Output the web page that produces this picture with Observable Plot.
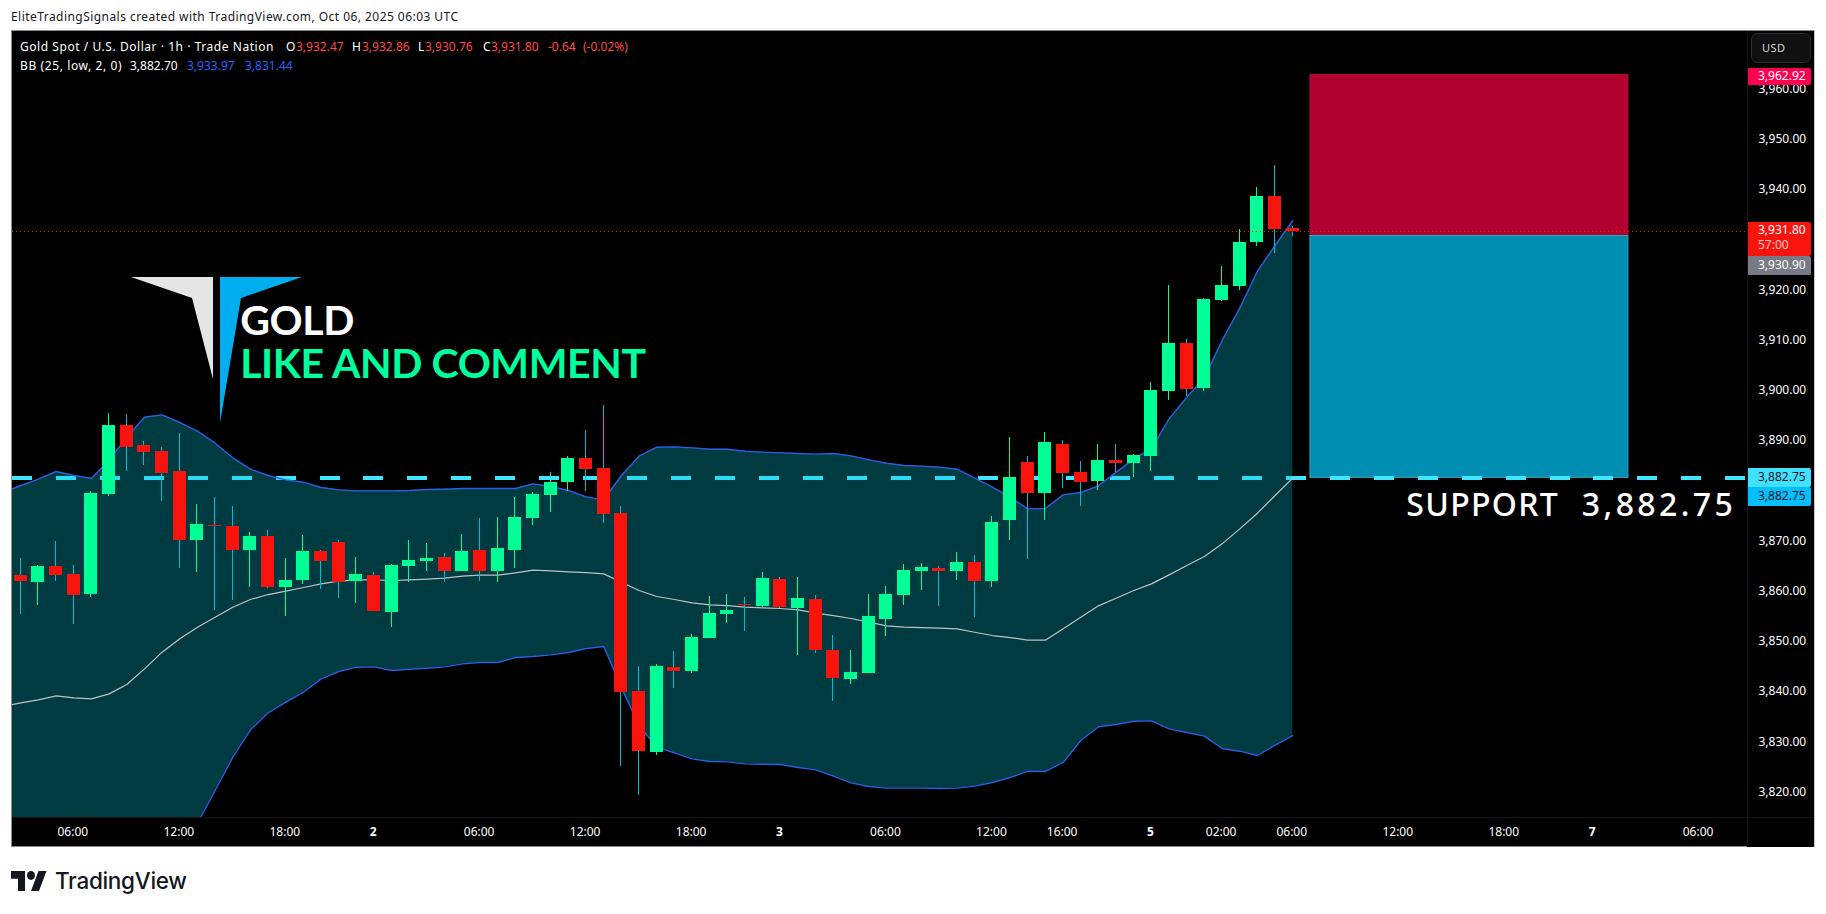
<!DOCTYPE html>
<html>
<head>
<meta charset="utf-8">
<script src="https://cdn.jsdelivr.net/npm/d3@7"></script>
<script src="https://cdn.jsdelivr.net/npm/@observablehq/plot@0.6"></script>
<style>
html,body{margin:0;padding:0;background:#fff;width:1826px;height:914px;overflow:hidden}
body{font-family:"Noto Sans",sans-serif;position:relative}
#hdr{position:absolute;left:11px;top:8px;font-size:12px;line-height:17px;letter-spacing:0.45px;color:#131722;white-space:nowrap}
#chart{position:absolute;left:11px;top:30px;width:1804px;height:817px;background:#000}
#chart svg{display:block}
.ov{position:absolute;white-space:nowrap}
.leg{position:absolute;font-size:12px;line-height:16px;white-space:nowrap;color:#fff}
.tag{position:absolute;left:1748px;width:53px;padding-left:10px;font-size:12px;color:#fff;border-radius:0 2px 2px 0;box-sizing:content-box}
.tag span{position:absolute;left:10px}
</style>
</head>
<body>
<div id="hdr">EliteTradingSignals created with TradingView.com, Oct 06, 2025 06:03 UTC</div>
<div id="chart"></div>
<script>
const open_ = [3863.32,3861.92,3865.11,3863.52,3859.53,3879.44,3893.17,3889.19,3888.00,3884.02,3870.28,3873.27,3873.07,3868.29,3871.08,3860.93,3862.32,3868.09,3869.88,3862.12,3863.32,3855.95,3865.11,3866.10,3866.90,3864.11,3868.29,3864.11,3868.29,3874.66,3879.24,3881.83,3886.61,3884.61,3875.66,3840.23,3828.08,3845.00,3844.21,3850.78,3855.55,3857.54,3857.15,3862.52,3856.75,3858.54,3848.39,3842.62,3843.81,3854.55,3859.33,3864.11,3864.71,3864.11,3865.90,3862.12,3874.26,3885.81,3879.64,3889.39,3883.82,3882.02,3886.20,3885.61,3887.00,3899.94,3909.49,3900.54,3918.05,3920.84,3929.60,3938.75,3932.47];
const high = [3866.70,3865.31,3870.08,3865.31,3880.04,3895.56,3895.36,3889.99,3888.79,3891.58,3877.45,3878.84,3877.05,3871.88,3872.27,3866.70,3871.28,3868.29,3870.28,3866.90,3863.91,3865.51,3870.28,3869.69,3867.70,3871.48,3874.66,3874.86,3878.84,3879.84,3883.82,3887.00,3892.18,3897.15,3877.05,3845.20,3845.60,3848.19,3851.57,3859.14,3859.53,3858.94,3863.91,3862.92,3862.92,3859.34,3851.37,3848.39,3859.53,3861.12,3865.50,3865.70,3865.10,3867.89,3867.29,3875.06,3890.78,3887.00,3891.78,3890.18,3886.00,3889.39,3889.39,3887.40,3901.73,3921.04,3910.29,3918.45,3924.82,3932.18,3940.54,3944.92,3932.86];
const low = [3855.55,3857.34,3862.12,3853.56,3858.94,3879.04,3884.02,3885.21,3878.05,3864.71,3863.91,3856.35,3858.34,3860.93,3860.73,3855.15,3861.52,3860.53,3858.74,3857.74,3856.15,3852.97,3861.92,3864.11,3861.92,3864.11,3862.12,3861.92,3864.71,3873.27,3875.86,3880.04,3880.04,3873.67,3825.30,3819.53,3827.49,3840.82,3843.81,3850.78,3853.76,3852.17,3856.95,3856.75,3847.39,3847.79,3838.24,3841.62,3843.81,3851.17,3857.34,3860.33,3857.14,3862.32,3854.95,3860.92,3870.28,3866.50,3874.26,3880.63,3877.05,3880.23,3883.82,3882.82,3884.01,3898.15,3898.94,3899.94,3917.85,3920.04,3928.80,3927.41,3930.76];
const close_ = [3862.12,3865.11,3863.32,3859.34,3879.64,3893.17,3888.79,3887.80,3883.62,3870.28,3873.47,3873.07,3868.29,3871.08,3860.93,3862.32,3868.09,3866.10,3861.92,3863.52,3856.15,3865.31,3866.30,3866.70,3864.11,3868.09,3864.11,3868.69,3874.86,3879.44,3881.83,3886.61,3884.42,3875.46,3840.03,3828.28,3845.20,3844.21,3850.97,3855.75,3856.35,3857.34,3862.72,3856.95,3858.74,3848.39,3842.81,3844.01,3855.15,3859.53,3864.31,3864.90,3864.11,3865.90,3862.12,3873.86,3882.82,3879.64,3889.79,3883.62,3881.82,3886.20,3885.61,3887.20,3900.14,3909.49,3900.34,3918.25,3921.04,3929.60,3938.75,3932.18,3931.80];

// Bollinger bands, one extra bar before the first visible candle
const bbUpper = [3879.84,3881.23,3882.49,3884.02,3883.22,3882.62,3886.21,3890.85,3894.83,3895.30,3893.77,3892.05,3889.66,3886.74,3884.48,3883.22,3882.36,3881.89,3880.83,3880.37,3880.17,3880.17,3880.17,3880.24,3880.43,3880.50,3880.63,3880.63,3880.63,3880.63,3881.56,3881.03,3880.24,3878.97,3878.38,3883.22,3887.07,3888.86,3888.93,3888.73,3888.46,3888.46,3888.06,3887.87,3887.73,3887.60,3887.47,3887.60,3887.14,3886.34,3885.67,3885.21,3885.08,3884.88,3884.48,3882.69,3880.90,3878.91,3876.58,3876.65,3879.37,3879.83,3881.16,3883.88,3886.54,3888.53,3894.50,3898.81,3902.66,3910.09,3916.53,3923.89,3929.00,3933.97];
const bbBasis = [3837.24,3837.97,3838.57,3839.36,3838.97,3838.77,3839.76,3841.62,3844.74,3848.06,3850.71,3853.03,3855.02,3857.01,3858.54,3859.53,3860.20,3860.93,3861.66,3862.19,3862.45,3862.45,3862.32,3862.45,3862.59,3862.79,3863.18,3863.38,3863.38,3863.85,3864.38,3864.25,3864.05,3863.91,3863.65,3861.99,3860.33,3859.14,3858.54,3857.88,3857.48,3857.34,3857.01,3856.88,3856.75,3856.48,3855.82,3855.35,3854.76,3854.03,3853.29,3853.03,3852.96,3852.83,3852.70,3852.03,3851.37,3850.97,3850.44,3850.44,3852.70,3855.02,3857.28,3858.80,3860.33,3861.65,3863.45,3865.30,3867.10,3869.62,3872.60,3875.72,3879.24,3882.70];
const bbLower = [3794.64,3794.71,3794.64,3794.71,3794.71,3794.91,3793.32,3792.39,3794.64,3800.82,3807.65,3814.02,3820.52,3827.16,3832.60,3835.98,3838.10,3840.09,3842.75,3844.21,3845.07,3845.14,3844.41,3844.67,3844.87,3845.14,3845.73,3846.00,3846.00,3846.99,3847.19,3847.53,3847.99,3848.79,3849.18,3840.96,3833.46,3829.15,3828.02,3826.82,3826.29,3826.23,3825.83,3825.76,3825.70,3825.10,3824.63,3823.37,3822.05,3821.32,3820.99,3820.99,3820.99,3820.92,3820.99,3821.39,3822.12,3823.11,3824.37,3824.31,3826.10,3830.48,3833.20,3833.66,3834.32,3834.39,3832.80,3832.07,3831.34,3828.88,3828.35,3827.49,3829.55,3831.44];

const priceTicks = [3820,3830,3840,3850,3860,3870,3890,3900,3910,3920,3940,3950,3960];
const hourTickBars = [3,9,15,26,32,38,49,55,59,68,72,78,84,95];
const hourTickLabels = ["06:00","12:00","18:00","06:00","12:00","18:00","06:00","12:00","16:00","02:00","06:00","12:00","18:00","06:00"];
const dayTickBars = [20,43,64,89];
const dayTickLabels = ["2","3","5","7"];

const support = 3882.75, lastClose = 3931.80, entry = 3930.90, target = 3962.92;
const boxStart = 73, boxEnd = 91;
const annotations = [
  {label:"GOLD", bar:12.42, price:3913.8, size:41, ls:"-0.4px", color:"#ffffff", font:'Lato,sans-serif', weight:700},
  {label:"LIKE AND COMMENT", bar:12.42, price:3905.2, size:41, ls:"-0.4px", color:"#00ff9d", font:'Lato,sans-serif', weight:700},
  {label:"SUPPORT", bar:78.43, price:3877.2, size:32, ls:"1.3px", color:"#ffffff", font:'"Noto Sans",sans-serif', weight:500},
  {label:"3,882.75", bar:88.36, price:3877.2, size:32, ls:"3.4px", color:"#ffffff", font:'"Noto Sans",sans-serif', weight:500}
];

const bars = open_.map((o,i)=>({i,o,h:high[i],l:low[i],c:close_[i]}));
const rising = bars.filter(b=>b.c>=b.o), falling = bars.filter(b=>b.c<b.o);
const bb = bbUpper.map((u,k)=>({i:k-1,u,m:bbBasis[k],d:bbLower[k]}));
const UP="#00ff95", DOWN="#f8130d", DOWNWICK="#00bcd4";
const FONT='"Noto Sans",sans-serif';
const shift=-0.6;

const chart = Plot.plot({
  width:1804, height:817,
  marginTop:1, marginBottom:30, marginLeft:1, marginRight:68,
  style:{background:"#000",fontFamily:FONT,overflow:"visible"},
  x:{type:"linear",domain:[-0.47,97.74],axis:null},
  y:{type:"linear",domain:[3815.15,3971.6],axis:null},
  marks:[
    Plot.rectY([{a:boxStart,b:boxEnd,y1:entry,y2:target}],{x1:"a",x2:"b",y1:"y1",y2:"y2",fill:"#b00030",stroke:"#c0063c",strokeWidth:1}),
    Plot.rectY([{a:boxStart,b:boxEnd,y1:support,y2:entry}],{x1:"a",x2:"b",y1:"y1",y2:"y2",fill:"#008fb3",stroke:"#36a3bf",strokeWidth:1}),
    Plot.ruleY([support],{stroke:"#3fe6ff",strokeWidth:4,strokeDasharray:"20 23.93",shapeRendering:"crispEdges"}),
    Plot.areaY(bb,{x:"i",y1:"d",y2:"u",fill:"#00c3dc",fillOpacity:0.3,clip:true}),
    Plot.line(bb,{x:"i",y:"m",stroke:"#bfc1c1",strokeWidth:1.2,clip:true}),
    Plot.line(bb,{x:"i",y:"u",stroke:"#2a5fe0",strokeWidth:1.4,clip:true}),
    Plot.line(bb,{x:"i",y:"d",stroke:"#2a5fe0",strokeWidth:1.4,clip:true}),
    Plot.ruleX(rising,{x:"i",y1:"l",y2:"h",dx:shift,stroke:UP,strokeWidth:1,shapeRendering:"crispEdges"}),
    Plot.ruleX(falling,{x:"i",y1:"l",y2:"h",dx:shift,stroke:DOWNWICK,strokeWidth:1,shapeRendering:"crispEdges"}),
    Plot.ruleX(rising,{x:"i",y1:"o",y2:"c",dx:shift,stroke:UP,strokeWidth:13,shapeRendering:"crispEdges"}),
    Plot.ruleX(falling,{x:"i",y1:"o",y2:"c",dx:shift,stroke:DOWN,strokeWidth:13,shapeRendering:"crispEdges"}),
    Plot.ruleY([lastClose],{stroke:DOWN,strokeWidth:1,strokeDasharray:"1 3",shapeRendering:"crispEdges"}),
    Plot.axisY({anchor:"right",ticks:priceTicks,tickSize:0,tickPadding:11,dy:-1,tickFormat:d3.format(",.2f"),fill:"#fff",fontSize:12,label:null}),
    Plot.axisX({ticks:hourTickBars,tickSize:0,tickPadding:10,dx:-1,tickFormat:d=>hourTickLabels[hourTickBars.indexOf(d)],fill:"#fff",fontSize:12,label:null}),
    Plot.axisX({ticks:dayTickBars,tickSize:0,tickPadding:10,dx:-1,tickFormat:d=>dayTickLabels[dayTickBars.indexOf(d)],fill:"#fff",fontSize:12,fontWeight:"bold",label:null}),
    ...annotations.map(a=>Plot.text([a],{x:"bar",y:"price",text:"label",fill:"color",fontSize:a.size,fontFamily:a.font,fontWeight:a.weight,textAnchor:"start"}))
  ]
});
chart.querySelectorAll("text").forEach(t=>{ const a=annotations.find(n=>n.label===t.textContent); if(a) t.style.letterSpacing=a.ls; });
const host=document.getElementById("chart");
host.appendChild(chart);

const yS=chart.scale("y");
const page=(v)=>yS.apply(v)+30;

// Frame lines
function box(css){const e=document.createElement("div");e.className="ov";e.style.cssText+=css;document.body.appendChild(e);return e;}
box("left:11px;top:30px;width:1804px;height:1px;background:#8c8c8c");
box("left:11px;top:30px;width:1px;height:817px;background:#8c8c8c");
box("left:11px;top:846px;width:1736px;height:1px;background:#8c8c8c");
box("left:1814px;top:30px;width:1px;height:817px;background:#c8c8c8");
box("left:12px;top:817px;width:1802px;height:1px;background:#141414");
box("left:1747px;top:31px;width:1px;height:815px;background:#141414");

// Legend
const WHITE="#ffffff",RED="#ff4a4a",BLUE="#2962ff";
const legend=[
 [20,46.7,"Gold Spot / U.S. Dollar · 1h · Trade Nation",WHITE,0.55],
 [286,46.7,"O",WHITE,0],[296,46.7,"3,932.47",RED,0],
 [352,46.7,"H",WHITE,0],[362,46.7,"3,932.86",RED,0],
 [418,46.7,"L",WHITE,0],[425,46.7,"3,930.76",RED,0],
 [483,46.7,"C",WHITE,0],[491,46.7,"3,931.80",RED,0],
 [548,46.7,"-0.64",RED,0],[583,46.7,"(-0.02%)",RED,0],
 [20,65.7,"BB (25, low, 2, 0)",WHITE,0.6],[130,65.7,"3,882.70",WHITE,0],[187,65.7,"3,933.97",BLUE,0],[245,65.7,"3,831.44",BLUE,0]
];
legend.forEach(([x,y,t,c,ls])=>{const e=document.createElement("div");e.className="leg";e.textContent=t;e.style.left=x+"px";e.style.top=(y-8)+"px";e.style.color=c;e.style.letterSpacing=ls+"px";document.body.appendChild(e);});

// USD button
const usd=box("left:1751px;top:33px;width:60px;height:30px;background:#101010;border:1px solid #2c2c2c;border-radius:6px;box-sizing:border-box;color:#d8d8d8;font-size:11px;line-height:28px;padding-left:10px;letter-spacing:0.5px");
usd.textContent="USD";

// Price tags
function tag(top,h,bg,lines,fg){
  const e=document.createElement("div");e.className="tag";
  e.style.top=top+"px";e.style.height=h+"px";e.style.background=bg;
  lines.forEach(([t,cy,c])=>{const s=document.createElement("span");s.textContent=t;s.style.top=(cy-9)+"px";s.style.lineHeight="18px";s.style.color=c||fg;e.appendChild(s);});
  document.body.appendChild(e);
}
const fmt=d3.format(",.2f");
tag(page(target)-7,17.5,"#ff0050",[[fmt(target),8.2]],"#fff");
const ty=page(lastClose);
tag(ty-9,33.7,DOWN,[[fmt(lastClose),8.5],["57:00",23.5,"#ffc9c4"]],"#fff");
tag(ty+24.7,19.3,"#787b86",[[fmt(entry),9.2]],"#fff");
tag(page(support)-9,18.7,"#40e0ff",[[fmt(support),8.8]],"#131722");
tag(page(support)+9.7,19,"#00bfff",[[fmt(support),8.8]],"#131722");
</script>
<svg class="ov" style="left:0;top:0;pointer-events:none" width="320" height="430">
  <polygon points="131,277 213,277 213,379 192,298" fill="#e5e5e5"/>
  <polygon points="220,277 302,277 241,298 220,423" fill="#00aeef"/>
</svg>
<svg class="ov" style="left:11px;top:871px" width="36" height="20" viewBox="0 4 36 18" preserveAspectRatio="none">
  <path d="M14 22H7V11H0V4h14v18zM28 22h-8l7.5-18h8L28 22z" fill="#131722"/><circle cx="20" cy="8" r="4" fill="#131722"/>
</svg>
<div class="ov" style="left:55px;top:866px;font-family:Inter,sans-serif;font-weight:500;font-size:22.5px;line-height:30px;letter-spacing:-0.3px;color:#131722">TradingView</div>
</body>
</html>
